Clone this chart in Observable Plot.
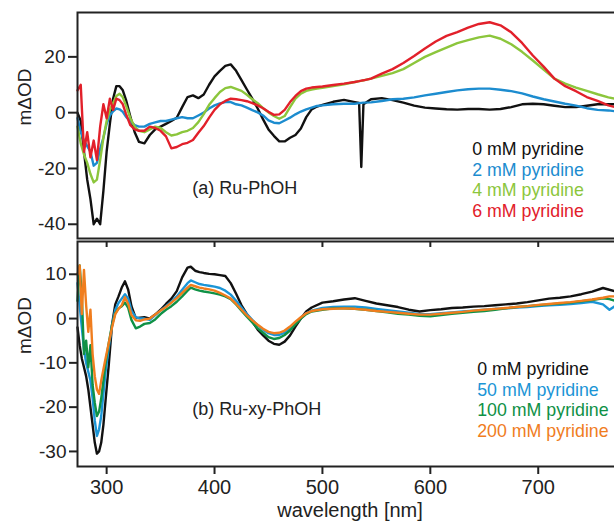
<!DOCTYPE html>
<html><head><meta charset="utf-8">
<script src="https://cdn.jsdelivr.net/npm/d3@7"></script>
<script src="https://cdn.jsdelivr.net/npm/@observablehq/plot@0.6"></script>
<style>
html,body{margin:0;padding:0;background:#fff;overflow:hidden;}
#chart{position:relative;width:614px;height:523px;overflow:hidden;}
#chart svg{display:block;max-width:none !important;}
</style></head><body><div id="chart"></div>
<script>
// ---------- data ----------
const topWavelength = [273,276,279,282,285,288,291,294,297,300,303,306,309,312,315,318,322,326,330,335,340,345,350,355,360,365,370,375,380,385,390,395,400,405,410,415,420,425,430,435,440,445,450,455,460,465,470,475,480,485,490,495,500,510,520,530,534,536,538,545,555,565,575,585,595,605,615,625,635,645,655,665,675,685,695,705,715,725,735,745,755,765,771];
const topPyr0 = [0,-3,-14,-24,-31,-40,-38,-40,-28,-14, -4,5,9.5,9.5,8,4.5,-1.5,-7,-10.5,-11, -8,-6,-5,-4,-3,-1.8,2,5.6,6.2,5.2, 6.5,10,13,15,16.8,17.3,15,11.7,8.3,5, 1.5,-2.4,-6,-8.3,-10.3,-10.3,-9,-8,-5.7,-1.6, 1.2,2.2,2.8,3.9,4.6,3.8,3.5,-19.5,3,4.8, 5.2,4.5,3.6,2.5,1.8,1.5,1.2,1.1,1.3,1.3, 1.1,1.3,2,3,3.2,3,2.5,2,2,2.5, 3,3,3];
const topPyr2 = [-2,-7,-10,-12,-14,-19,-18,-13,-9,-4, -1,0.5,1.5,1.2,0.3,-1.5,-3,-4.5,-5,-5, -4,-3.5,-3,-3,-2.5,-2,-1.6,-2,-2,-1, 0,1.5,2.6,3.3,3.8,3.8,3,2.6,1.8,0.9, 0.1,-1,-2.8,-3.6,-3.8,-2.8,-1.8,-0.6,0.4,1.2, 1.8,2.4,2.6,3,3.2,3.2,3.4,3.5,3.6,3.7, 4.2,4.8,5,5.5,6.2,6.8,7.4,8,8.4,8.6, 8.6,8.2,7.7,6.9,5.8,4.8,4,3.2,2.5,1.6, 1,0.8,0.5];
const topPyr4 = [-5,-11,-15,-18,-22,-25,-24,-17,-9,-3, 1,3.5,6,6.8,5.5,2.5,-2,-5,-6.5,-7, -6,-5,-5.5,-7,-8.2,-7.8,-7,-6.5,-5.5,-3.4, -0.5,2.8,5.2,7.4,8.8,9.2,8.5,7.8,6.4,4.8, 3.4,1.6,0.1,-1.2,-2.2,-1.2,2,5,6.8,7.8, 8.3,8.6,8.9,9.5,10.2,11,11.3,11.4,11.6,12.2, 13.2,14.2,15.6,17.8,20,21.7,23.3,24.9,26,27, 27.6,26.5,24.5,21.8,18.7,15.4,12.2,10.4,9,7.8, 6.6,5.5,5];
const topPyr6 = [8,10,-14,-7,-16,-10,-17,-5,3,-2, 5,1,5,4.5,3,-0.5,-4.5,-6,-6.5,-6.5, -5,-5.5,-6.5,-8.5,-12.8,-12.3,-11.3,-10.8,-9.8,-7.2, -4.8,-1.8,1,3,4.2,5,4.8,4.5,4.1,3.4, 2.6,1.6,0.3,-0.8,-0.6,1,3.8,6,7.7,8.6, 9,9.2,9.4,9.9,10.4,11,11.3,11.5,11.6,12.2, 14,15.6,17.8,20.3,23,25.5,27.5,28.9,30.5,31.8, 32.4,31.3,28.8,25,20.5,16.5,12.2,9.5,7.7,5.6, 4.2,2.6,2];

const botWavelength = [273,275,277,279,281,283,285,287,289,291,293,295,297,299,302,305,308,311,314,317,320,323,327,331,335,340,345,350,355,360,365,370,375,378,382,386,390,395,400,405,410,415,420,425,430,435,440,445,450,455,460,465,470,475,480,485,490,500,510,520,530,540,550,560,570,580,590,600,610,620,630,640,650,660,670,680,690,700,710,720,730,740,750,760,766,771];
const botPyr0 = [-2,-6,-9,-11,-13,-16,-20,-24,-28,-30.5, -30,-28,-24,-18.5,-10.4,-1.4,3.2,5,7,8.4, 6.5,2.8,0.1,0.2,0.3,0,0.9,2,3.3,4.5, 6.2,9.3,11.5,11.7,10.8,10.5,10.3,10.1,10,9.8, 9.6,8,5.6,3,1,-0.7,-2.5,-3.8,-5,-5.7, -5.9,-5.2,-3.8,-1.8,0,1.6,2.5,3.6,3.9,4.3, 4.6,4,3.4,3,2.6,2,1.6,1.9,2.1,2.4, 2.5,2.7,2.8,3,3.2,3.4,3.7,4.1,4.5,4.7, 5,5.5,6.1,6.9,6.5,6.2];
const botPyr50 = [8,3,-2,-7,-10,-12,-14,-18,-23,-26.5, -25,-22,-17,-12,-6.5,-1.5,2,3.5,4.5,5.5, 4.5,1.8,0.3,0,0,-0.3,0.8,1.8,2.8,3.8, 5,6.5,8,8.6,8.2,7.8,7.6,7.4,7.2,6.9, 6.3,5.4,4,2.5,1,-0.3,-1.5,-2.5,-3.3,-3.7, -3.7,-3.2,-2.2,-1,0.2,1.2,1.8,2.4,2.6,2.7, 2.7,2.5,2.2,1.9,1.6,1.3,1,1,1.2,1.4, 1.6,1.8,2,2.2,2.3,2.5,2.6,2.8,3,3.1, 3.3,3.5,3.8,3.2,2,2.8];
const botPyr100 = [4,12,5,-8,-5,-11,-6,-15,-19,-22, -21,-18,-14,-10,-5.5,-1.5,1.2,2.3,2.8,3.6, 2.4,-0.3,-2.2,-1.8,-1.2,-1,-0.2,1,2,2.8, 3.8,5,6.3,7,6.6,6.3,6.1,5.9,5.7,5.4, 5,4.4,3.2,1.8,0.4,-0.9,-2.2,-3.2,-4.2,-4.6, -4.4,-3.7,-2.7,-1.3,0,1,1.6,2,2.3,2.3, 2.2,2,1.7,1.4,1.1,0.9,0.6,0.5,0.8,1.1, 1.3,1.5,1.7,2,2.3,2.6,2.8,3,3.2,3.4, 3.6,3.9,4.2,4.6,4.4,4];
const botPyr200 = [10,12,1,11,3,-3,2,-8,-13,-16, -17,-14,-11.5,-9,-5.5,-2,1,2.2,3,4.8, 3.3,0.8,-0.4,-0.5,-0.2,0,0.9,1.8,2.6,3.6, 4.6,5.8,7,7.6,7.3,7,6.8,6.6,6.3,5.8, 5.2,4.5,3.3,2,0.7,-0.4,-1.4,-2.3,-3,-3.3, -3.2,-2.7,-1.8,-0.7,0.3,1.2,1.7,2.1,2.2,2.3, 2.2,2,1.7,1.5,1.3,1.1,0.9,0.9,1.1,1.3, 1.5,1.8,2,2.2,2.4,2.6,2.8,3.1,3.3,3.5, 3.7,4,4.3,4.7,5,5];

const topLabels = ["0 mM pyridine","2 mM pyridine","4 mM pyridine","6 mM pyridine"];
const botLabels = ["0 mM pyridine","50 mM pyridine","100 mM pyridine","200 mM pyridine"];
const topColors = ["#111111","#1c8ccf","#8cc63c","#e2202a"];
const botColors = ["#111111","#1b95d6","#0f9146","#f07d1e"];
const xTicks = [300,400,500,600,700];
const topYTicks = [-40,-20,0,20];
const botYTicks = [-30,-20,-10,0,10];
const xDomain = [273, 778.1];
const topYDomain = [-45.1, 35.9];
const botYDomain = [-33.4, 17.4];

// ---------- checks ----------
[topPyr0,topPyr2,topPyr4,topPyr6].forEach((a,i)=>{ if(a.length!==topWavelength.length) throw new Error("top series "+i+" length "+a.length+" vs "+topWavelength.length); });
[botPyr0,botPyr50,botPyr100,botPyr200].forEach((a,i)=>{ if(a.length!==botWavelength.length) throw new Error("bot series "+i+" length "+a.length+" vs "+botWavelength.length); });

const FONT = "'Liberation Sans', Arial, Helvetica, sans-serif";
const INK = "#222";
const LW = 2.4;
const hyphenFormat = d => String(d);
const rows = (wl, vals) => wl.map((w,i)=>({wl:w, v:vals[i]}));

function legendMarks(labels, colors, dx, dy0, step, fs){
  return labels.map((t,i)=>Plot.text([t], {frameAnchor:"top-left", textAnchor:"start", lineAnchor:"middle", dx, dy: dy0 + i*step, fill: colors[i], fontSize: fs}));
}

const W = 622;
const chartDiv = document.getElementById("chart");
const baseStyle = {fontFamily: FONT, fontSize: "19px", color: INK, background: "white", overflow: "visible", maxWidth: "none"};

// ---------- top panel ----------
const topSeries = [topPyr0, topPyr2, topPyr4, topPyr6];
const topPlot = Plot.plot({
  width: W, height: 239,
  marginLeft: 77, marginRight: 0, marginTop: 12, marginBottom: 1,
  style: baseStyle,
  x: {domain: xDomain, axis: null},
  y: {domain: topYDomain, axis: null},
  marks: [
    ...topSeries.map((s,i)=>Plot.line(rows(topWavelength, s), {x:"wl", y:"v", stroke: topColors[i], strokeWidth: LW, strokeLinejoin:"round"})),
    Plot.frame({stroke: INK, strokeWidth: 2}),
    Plot.axisY(topYTicks, {anchor:"left", tickSize: 9, tickPadding: 3, fontSize: 19, strokeWidth: 2, stroke: INK, label: null, tickFormat: hyphenFormat}),
    Plot.text(["mΔOD"], {frameAnchor:"left", lineAnchor:"middle", dx:-53, rotate:-90, fontSize: 19, fill: INK}),
    Plot.text(["(a) Ru-PhOH"], {frameAnchor:"top-left", textAnchor:"start", lineAnchor:"middle", dx: 114.7, dy: 175.5, fontSize: 18, fill: INK}),
    ...legendMarks(topLabels, topColors, 394.7, 136.6, 20.8, 17.8)
  ]
});
chartDiv.appendChild(topPlot);

// ---------- bottom panel ----------
const botSeries = [botPyr0, botPyr50, botPyr100, botPyr200];
const botH = 284, botMT = 2, botMB = 57;
const bottomPlot = Plot.plot({
  width: W, height: botH,
  marginLeft: 77, marginRight: 0, marginTop: botMT, marginBottom: botMB,
  style: baseStyle,
  x: {domain: xDomain, axis: null},
  y: {domain: botYDomain, axis: null},
  marks: [
    ...botSeries.map((s,i)=>Plot.line(rows(botWavelength, s), {x:"wl", y:"v", stroke: botColors[i], strokeWidth: LW, strokeLinejoin:"round"})),
    Plot.frame({stroke: INK, strokeWidth: 2}),
    Plot.ruleX(xTicks, {stroke: INK, strokeWidth: 2, insetBottom: botH - botMT - botMB - 6}),
    Plot.axisY(botYTicks, {anchor:"left", tickSize: 8, tickPadding: 3, fontSize: 19, strokeWidth: 2, stroke: INK, label: null, tickFormat: hyphenFormat}),
    Plot.axisX(xTicks, {anchor:"bottom", tickSize: 8, tickPadding: 5, fontSize: 20, strokeWidth: 2, stroke: INK, label: null, tickFormat: hyphenFormat}),
    Plot.text(["mΔOD"], {frameAnchor:"left", lineAnchor:"middle", dx:-53, rotate:-90, fontSize: 19, fill: INK}),
    Plot.text(["wavelength [nm]"], {frameAnchor:"bottom", lineAnchor:"middle", dy: 43.6, fontSize: 20, fill: INK}),
    Plot.text(["(b) Ru-xy-PhOH"], {frameAnchor:"top-left", textAnchor:"start", lineAnchor:"middle", dx: 114.7, dy: 167.7, fontSize: 18, fill: INK}),
    ...legendMarks(botLabels, botColors, 399.7, 127.6, 20.7, 17.8)
  ]
});
chartDiv.appendChild(bottomPlot);
</script></body></html>
